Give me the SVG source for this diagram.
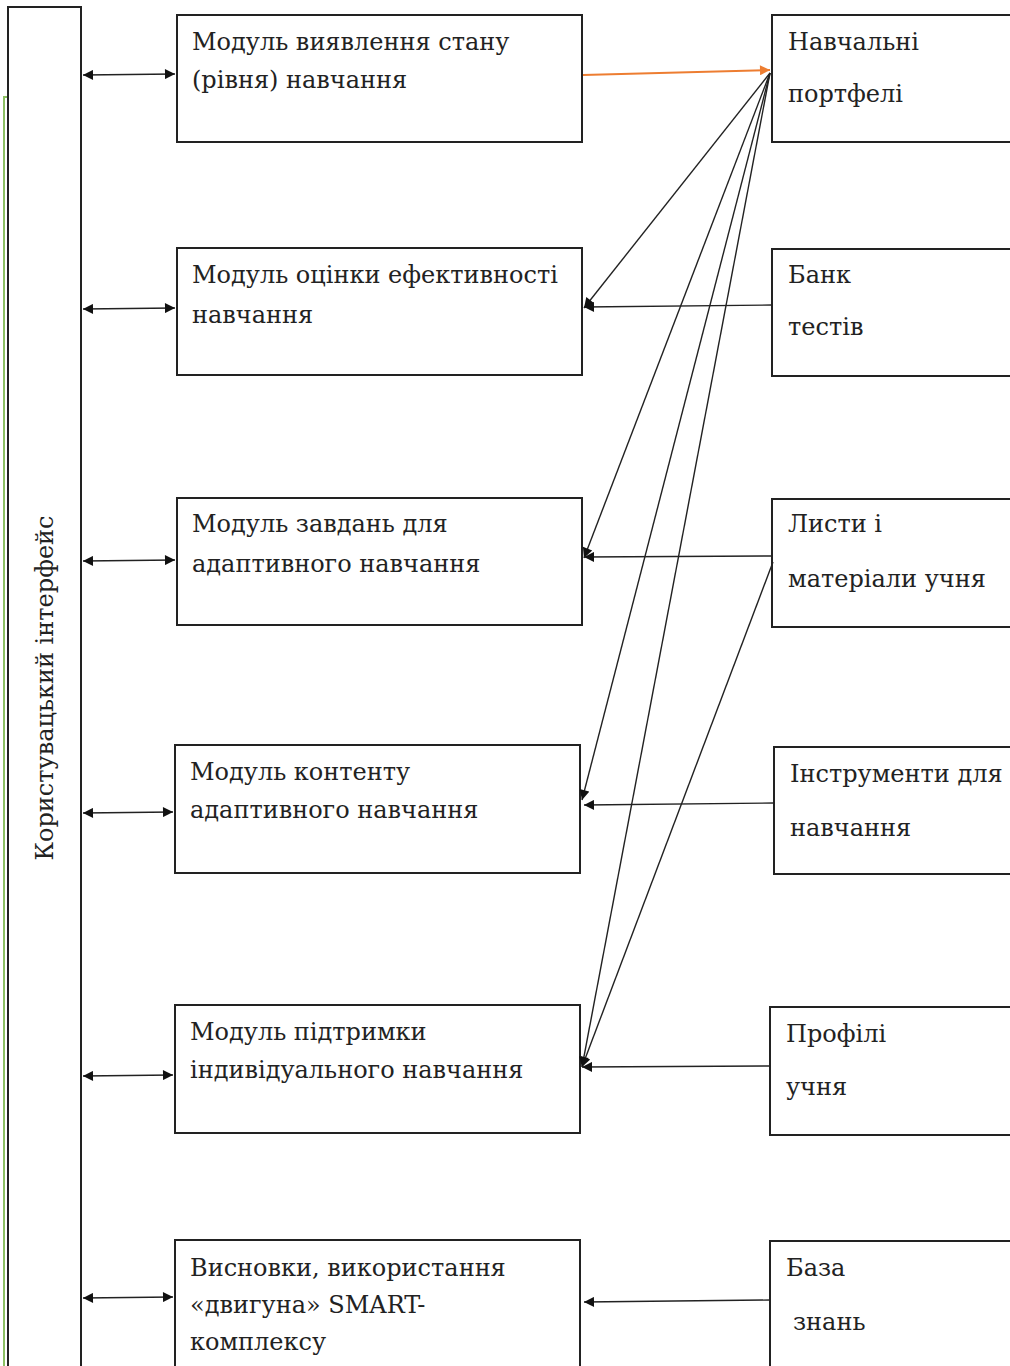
<svg xmlns="http://www.w3.org/2000/svg" width="1010" height="1366" viewBox="0 0 1010 1366">
<style>
.box{fill:#fff;stroke:#222;stroke-width:2}
.t{font-family:"DejaVu Serif","Liberation Serif",serif;font-size:24px;fill:#222}
.c{stroke:#222;stroke-width:1.4;fill:none}
.o{stroke:#ed7d31;stroke-width:2;fill:none}
</style>
<defs>
<marker id="ah" viewBox="0 0 10 10" refX="10" refY="5" markerWidth="12" markerHeight="10" markerUnits="userSpaceOnUse" orient="auto-start-reverse"><path d="M0,0 L10,5 L0,10 z" fill="#111"/></marker>
<marker id="aho" viewBox="0 0 10 10" refX="10" refY="5" markerWidth="12" markerHeight="10" markerUnits="userSpaceOnUse" orient="auto"><path d="M0,0 L10,5 L0,10 z" fill="#ed7d31"/></marker>
</defs>
<rect width="1010" height="1366" fill="#fff"/>
<path d="M8,97 H4 V1366" stroke="#8cc063" stroke-width="2" fill="none"/>
<g id="ui">
<rect class="box" x="8" y="7" width="73" height="1400"/>
<text class="t" transform="translate(53,688) rotate(-90)" text-anchor="middle">Користувацький інтерфейс</text>
</g>
<g id="m1"><rect class="box" x="177" y="15" width="405" height="127"/>
<text class="t" x="192" y="50">Модуль виявлення стану</text><text class="t" x="192" y="88">(рівня) навчання</text></g>
<g id="m2"><rect class="box" x="177" y="248" width="405" height="127"/>
<text class="t" x="192" y="283">Модуль оцінки ефективності</text><text class="t" x="192" y="323">навчання</text></g>
<g id="m3"><rect class="box" x="177" y="498" width="405" height="127"/>
<text class="t" x="192" y="532">Модуль завдань для</text><text class="t" x="192" y="572">адаптивного навчання</text></g>
<g id="m4"><rect class="box" x="175" y="745" width="405" height="128"/>
<text class="t" x="190" y="780">Модуль контенту</text><text class="t" x="190" y="818">адаптивного навчання</text></g>
<g id="m5"><rect class="box" x="175" y="1005" width="405" height="128"/>
<text class="t" x="190" y="1040">Модуль підтримки</text><text class="t" x="190" y="1078">індивідуального навчання</text></g>
<g id="m6"><rect class="box" x="175" y="1240" width="405" height="160"/>
<text class="t" x="190" y="1276">Висновки, використання</text><text class="t" x="190" y="1313">«двигуна» SMART-</text><text class="t" x="190" y="1350">комплексу</text></g>
<g id="r1"><rect class="box" x="772" y="15" width="260" height="127"/>
<text class="t" x="788" y="50">Навчальні</text><text class="t" x="788" y="102">портфелі</text></g>
<g id="r2"><rect class="box" x="772" y="249" width="260" height="127"/>
<text class="t" x="788" y="283">Банк</text><text class="t" x="788" y="335">тестів</text></g>
<g id="r3"><rect class="box" x="772" y="499" width="260" height="128"/>
<text class="t" x="788" y="532">Листи і</text><text class="t" x="788" y="587">матеріали учня</text></g>
<g id="r4"><rect class="box" x="774" y="747" width="260" height="127"/>
<text class="t" x="790" y="782">Інструменти для</text><text class="t" x="790" y="836">навчання</text></g>
<g id="r5"><rect class="box" x="770" y="1007" width="260" height="128"/>
<text class="t" x="786" y="1042">Профілі</text><text class="t" x="786" y="1095">учня</text></g>
<g id="r6"><rect class="box" x="770" y="1241" width="260" height="160"/>
<text class="t" x="786" y="1276">База</text><text class="t" x="793" y="1330">знань</text></g>
<g id="connectors">
<line class="c" x1="83" y1="75" x2="175" y2="74" marker-start="url(#ah)" marker-end="url(#ah)"/>
<line class="c" x1="83" y1="309" x2="175" y2="308" marker-start="url(#ah)" marker-end="url(#ah)"/>
<line class="c" x1="83" y1="561" x2="175" y2="560" marker-start="url(#ah)" marker-end="url(#ah)"/>
<line class="c" x1="83" y1="813" x2="173" y2="812" marker-start="url(#ah)" marker-end="url(#ah)"/>
<line class="c" x1="83" y1="1076" x2="173" y2="1075" marker-start="url(#ah)" marker-end="url(#ah)"/>
<line class="c" x1="83" y1="1298" x2="173" y2="1297" marker-start="url(#ah)" marker-end="url(#ah)"/>
<line class="o" x1="583" y1="75" x2="770" y2="70" marker-end="url(#aho)"/>
<line class="c" x1="770" y1="73" x2="584" y2="308" marker-end="url(#ah)"/>
<line class="c" x1="770" y1="73" x2="584" y2="558" marker-end="url(#ah)"/>
<line class="c" x1="770" y1="73" x2="582" y2="800" marker-end="url(#ah)"/>
<line class="c" x1="770" y1="73" x2="582" y2="1067" marker-end="url(#ah)"/>
<line class="c" x1="773" y1="562" x2="582" y2="1067" marker-end="url(#ah)"/>
<line class="c" x1="772" y1="305" x2="584" y2="307" marker-end="url(#ah)"/>
<line class="c" x1="772" y1="556" x2="584" y2="557" marker-end="url(#ah)"/>
<line class="c" x1="774" y1="803" x2="584" y2="805" marker-end="url(#ah)"/>
<line class="c" x1="770" y1="1066" x2="582" y2="1067" marker-end="url(#ah)"/>
<line class="c" x1="770" y1="1300" x2="584" y2="1302" marker-end="url(#ah)"/>
</g>
</svg>
